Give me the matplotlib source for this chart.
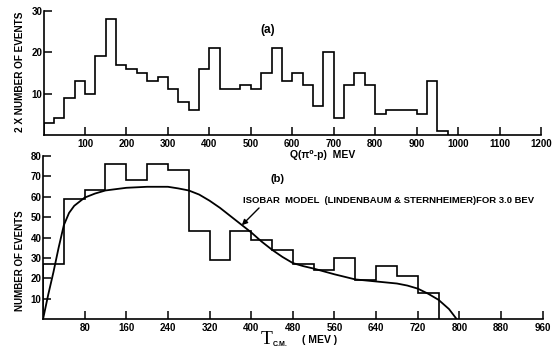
import numpy as np
import matplotlib
matplotlib.use('Agg')
import matplotlib.pyplot as plt

# (a) Q(pi0-p) histogram, 25 MeV bins
q_counts = [3, 4, 9, 13, 10, 19, 28, 17, 16, 15, 13, 14, 11, 8, 6, 16,
            21, 11, 11, 12, 11, 15, 21, 13, 15, 12, 7, 20, 4, 12, 15, 12,
            5, 6, 6, 6, 5, 13, 1]
q_bin = 25
q_ticks = [100, 200, 300, 400, 500, 600, 700, 800, 900, 1000, 1100, 1200]
q_yticks = [10, 20, 30]

# (b) T c.m. histogram, 40 MeV bins
t_counts = [27, 59, 63, 76, 68, 76, 73, 43, 29, 43, 39, 34, 27, 24, 30,
            19, 26, 21, 13]
t_bin = 40
t_ticks = [80, 160, 240, 320, 400, 480, 560, 640, 720, 800, 880, 960]
t_yticks = [10, 20, 30, 40, 50, 60, 70, 80]

# isobar model curve
iso_x = [0, 10, 20, 30, 40, 50, 60, 80, 100, 120, 160, 200, 240, 260, 280,
         300, 320, 340, 360, 380, 400, 420, 440, 460, 480, 500, 520, 560,
         600, 640, 680, 700, 720, 740, 760, 780, 795]
iso_y = [0, 12, 23, 35, 46, 52, 55.5, 59.5, 61.5, 63, 64.3, 64.8, 64.8, 64,
         63, 61, 58, 54.5, 50.5, 46.5, 42.5, 38, 34, 30.5, 27.5, 26, 24.8,
         22, 19.5, 18.5, 17.5, 16.5, 15, 12.5, 9.5, 5, 0]

plt.rcParams['font.family'] = ['Liberation Sans', 'DejaVu Sans']
plt.rcParams['font.weight'] = 'bold'

W, H = 552, 355
fig = plt.figure(figsize=(W / 100, H / 100), dpi=100)

def px(x0, y0, x1, y1):
    # pixel box -> figure fraction rect
    return [x0 / W, 1 - y1 / H, (x1 - x0) / W, (y1 - y0) / H]

def style(ax):
    for s in ['top', 'right']:
        ax.spines[s].set_visible(False)
    for s in ['left', 'bottom']:
        ax.spines[s].set_linewidth(1.2)
    ax.tick_params(direction='in', length=6, width=1.1, labelsize=7, pad=3)
    ax.tick_params(axis='y', pad=1)

# top panel
ax1 = fig.add_axes(px(43.5, 10.7, 541, 135))
q_edges = np.arange(len(q_counts) + 1) * q_bin
ax1.stairs(q_counts, q_edges, color='black', lw=1.2)
ax1.set_xlim(0, 1200)
ax1.set_ylim(0, 30)
ax1.set_xticks(q_ticks)
ax1.set_yticks(q_yticks)
style(ax1)
ax1.text(541, 25.4, '(a)', fontsize=8.5, ha='center', va='center')
fig.text(290 / W, 1 - 155 / H, 'Q(π⁰-p)  MEV', fontsize=7.5, ha='left', va='center')
fig.text(20 / W, 1 - 72 / H, '2 X NUMBER OF EVENTS', fontsize=7.2, rotation=90,
         ha='center', va='center')

# bottom panel
ax2 = fig.add_axes(px(43, 155.7, 542.7, 319.3))
t_edges = np.arange(len(t_counts) + 1) * t_bin
ax2.stairs(t_counts, t_edges, color='black', lw=1.2)
ax2.plot(iso_x, iso_y, color='black', lw=1.3)
ax2.set_xlim(0, 960)
ax2.set_ylim(0, 80)
ax2.set_xticks(t_ticks)
ax2.set_yticks(t_yticks)
style(ax2)
ax2.text(450, 68.5, '(b)', fontsize=8, ha='center', va='center')
ax2.annotate('ISOBAR  MODEL  (LINDENBAUM & STERNHEIMER)FOR 3.0 BEV',
             xy=(382, 46), xytext=(384, 58), fontsize=6.8, ha='left', va='center',
             arrowprops=dict(arrowstyle='-|>', color='black', lw=1,
                             mutation_scale=8, shrinkA=0, shrinkB=0,
                             relpos=(0.065, 0.0)))
fig.text(20 / W, 1 - 261 / H, 'NUMBER OF EVENTS', fontsize=7, rotation=90,
         ha='center', va='center')
fig.text(267 / W, 1 - 340 / H, 'T', fontsize=14, family='Liberation Serif',
         weight='normal', ha='center', va='center')
fig.text(272.5 / W, 1 - 344.5 / H, 'C.M.', fontsize=5, ha='left', va='center')
fig.text(302 / W, 1 - 340 / H, '( MEV )', fontsize=7.5, ha='left', va='center')

fig.savefig('out.png', dpi=100)
